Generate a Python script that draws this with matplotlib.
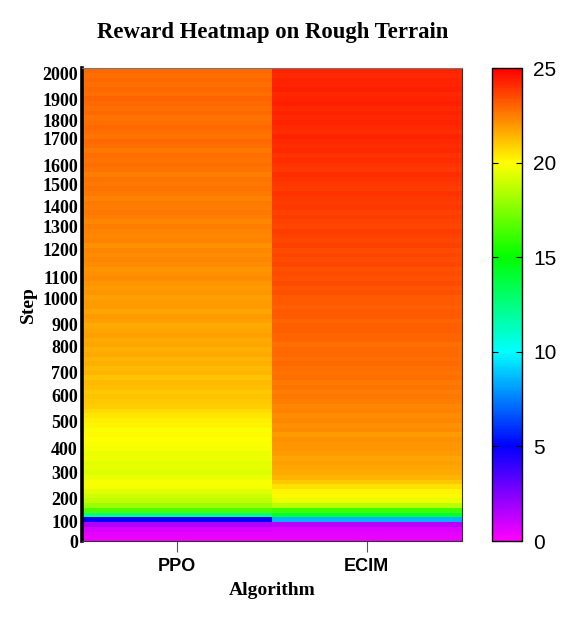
import numpy as np
import matplotlib
matplotlib.use("Agg")
import matplotlib.pyplot as plt
from matplotlib.colors import LinearSegmentedColormap

# reward per logged row (row 0 = first evaluation, bottom of the map)
algorithms = ["PPO", "ECIM"]

ppo_reward = [
    0.4, 0.5, 0.8, 1.6, 5.0, 12.5, 16.5, 18.0, 18.7, 19.0,
    19.4, 19.8, 19.9, 19.6, 19.3, 19.5, 19.4, 19.7, 19.6, 19.8,
    19.9, 20.0, 20.1, 19.9, 20.2, 20.3, 20.5, 20.7, 20.9, 21.0,
    21.1, 21.0, 21.2, 21.3, 21.1, 21.4, 21.3, 21.5, 21.4, 21.6,
    21.5, 21.7, 21.6, 21.8, 21.7, 21.6, 21.8, 21.9, 21.7, 21.9,
    21.9, 21.8, 22.0, 21.9, 22.0, 22.2, 22.1, 22.0, 22.2, 22.3,
    22.2, 22.3, 22.1, 22.4, 22.3, 22.4, 22.5, 22.3, 22.5, 22.6,
    22.5, 22.6, 22.4, 22.6, 22.7, 22.6, 22.7, 22.5, 22.7, 22.8,
    22.7, 22.8, 22.6, 22.8, 22.9, 22.7, 22.8, 22.9, 22.8, 22.7,
    22.9, 22.8, 22.9, 23.0, 22.8, 22.9, 22.8, 22.9, 22.8, 22.9,
]

ecim_reward = [
    0.4, 0.5, 0.7, 1.4, 8.5, 14.0, 16.2, 18.6, 19.6, 20.1,
    20.2, 20.6, 21.0, 21.4, 21.6, 21.7, 21.8, 21.7, 21.9, 22.0,
    22.0, 22.1, 21.9, 22.2, 22.1, 22.3, 22.2, 22.4, 22.3, 22.5,
    22.6, 22.5, 22.7, 22.6, 22.8, 22.7, 22.8, 22.9, 22.8, 22.9,
    22.9, 22.8, 23.0, 23.0, 23.1, 23.1, 23.0, 23.2, 23.2, 23.1,
    23.2, 23.2, 23.4, 23.3, 23.5, 23.4, 23.5, 23.4, 23.6, 23.5,
    23.6, 23.5, 23.7, 23.6, 23.7, 23.8, 23.6, 23.7, 23.8, 23.7,
    23.9, 23.8, 23.9, 24.0, 23.8, 23.9, 24.0, 24.1, 23.9, 24.0,
    24.1, 24.0, 24.2, 24.1, 24.2, 24.3, 24.1, 24.2, 24.3, 24.2,
    24.3, 24.2, 24.4, 24.3, 24.2, 24.4, 24.3, 24.3, 24.2, 24.3,
]

# step labels and the rows they sit on
step_labels = ["0", "100", "200", "300", "400", "500", "600", "700", "800", "900",
               "1000", "1100", "1200", "1300", "1400", "1500", "1600", "1700",
               "1800", "1900", "2000"]
step_rows = [0, 4.2, 8.9, 14.4, 19.5, 25.2, 30.7, 35.6, 41.1, 45.8,
             51.3, 55.7, 61.7, 66.5, 70.8, 75.4, 79.4, 85.2, 89.0, 93.4, 98.9]

cbar_ticks = [0, 5, 10, 15, 20, 25]

cmap = LinearSegmentedColormap.from_list(
    "reward", ["#ff00ff", "#0000ff", "#00ffff", "#00ff00", "#ffff00", "#ff0000"])

Z = np.column_stack([ppo_reward, ecim_reward])
n_rows = Z.shape[0]

fig = plt.figure(figsize=(5.71, 6.19), dpi=100)
ax = fig.add_axes([0.1436, 0.126, 0.665, 0.764])
cax = fig.add_axes([0.8617, 0.126, 0.0525, 0.764])

mesh = ax.pcolormesh(np.arange(3), np.arange(n_rows + 1), Z,
                     cmap=cmap, vmin=0, vmax=25, shading="flat")
ax.set_xlim(0, 2)
ax.set_ylim(0, n_rows)

ax.set_xticks([0.5, 1.5])
ax.set_xticklabels(algorithms, fontfamily="Liberation Sans", fontweight="bold", fontsize=13)
ax.tick_params(axis="x", direction="out", length=8, color="#555555", pad=4)

ax.set_yticks(step_rows)
ax.set_yticklabels(step_labels, fontfamily="Liberation Serif", fontweight="bold", fontsize=13)
ax.tick_params(axis="y", length=0, pad=3)

ax.spines["left"].set_linewidth(2.6)
ax.spines["left"].set_color("black")
ax.spines["top"].set_color("#777777")
ax.spines["right"].set_color("#333333")
ax.spines["bottom"].set_color("#333333")

ax.set_xlabel("Algorithm", fontfamily="Liberation Serif", fontweight="bold", fontsize=14, labelpad=5)
ax.set_ylabel("Step", fontfamily="Liberation Serif", fontweight="bold", fontsize=14, labelpad=4)
fig.text(0.478, 0.948, "Reward Heatmap on Rough Terrain", ha="center", va="center",
         fontfamily="Liberation Serif", fontweight="bold", fontsize=16.4)

cb = fig.colorbar(mesh, cax=cax, ticks=cbar_ticks)
cb.outline.set_linewidth(1.0)
cax.tick_params(direction="in", left=True, right=True, length=4, labelsize=15, pad=8)
for t in cax.get_yticklabels():
    t.set_fontfamily("Liberation Sans")

fig.savefig("out.png", dpi=100)
